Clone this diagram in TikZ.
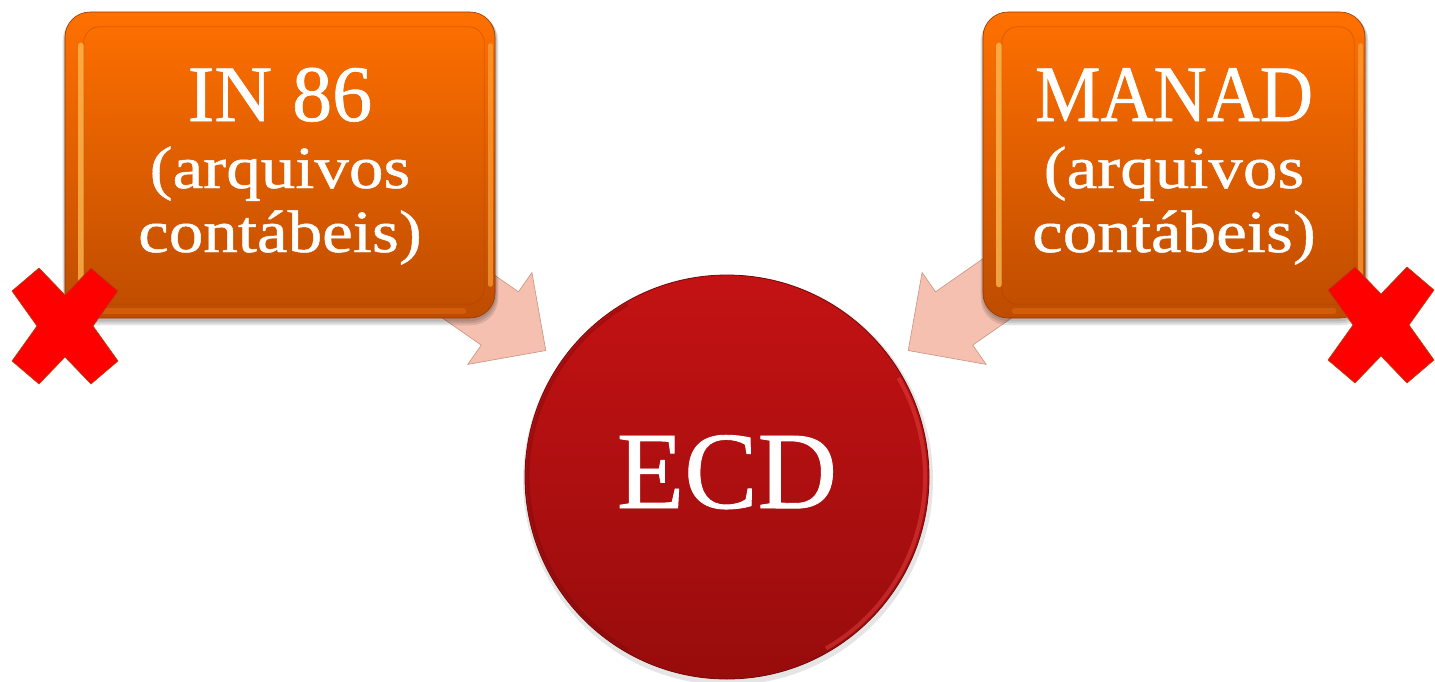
\documentclass[tikz,border=0pt]{standalone}
\usepackage{fontspec}
\setmainfont{Liberation Serif}
\newfontfamily\basefont[FakeBold=0.8]{Liberation Serif}
\newfontfamily\widefont[FakeStretch=1.15,FakeBold=0.8]{Liberation Serif}
\newfontfamily\narrowfont[FakeStretch=0.92,FakeBold=0.8]{Liberation Serif}
\usetikzlibrary{calc}
\pgfdeclarelayer{bg}
\pgfsetlayers{bg,main}
\definecolor{orTop}{RGB}{255,112,0}
\definecolor{orBot}{RGB}{190,76,0}
\definecolor{orEdge}{RGB}{150,58,0}
\definecolor{orHi}{RGB}{255,190,85}
\definecolor{orHiR}{RGB}{255,165,60}
\definecolor{orRing}{RGB}{230,108,20}
\definecolor{rdTop}{RGB}{196,18,20}
\definecolor{rdBot}{RGB}{152,12,12}
\definecolor{rdEdge}{RGB}{115,8,8}
\definecolor{rdHi}{RGB}{235,70,70}
\definecolor{arFill}{RGB}{245,192,176}
\definecolor{arEdge}{RGB}{205,150,130}
\definecolor{xRed}{RGB}{255,0,0}
\definecolor{xEdge}{RGB}{170,70,20}
\begin{document}
\begin{tikzpicture}[x=1pt,y=-1pt,
  glossbox/.style={rectangle, rounded corners=25pt, minimum width=#1, minimum height=306pt,
    inner sep=0pt, top color=orTop, bottom color=orBot, draw=orEdge, line width=0.6pt},
  ecdcircle/.style={circle, minimum size=404pt, inner sep=0pt, top color=rdTop,
    bottom color=rdBot, draw=rdEdge, line width=0.8pt},
  bigtxt/.style={anchor=base, inner sep=0pt, text=white, font=\basefont\fontsize{80}{80}\selectfont},
  smalltxt/.style={anchor=base, inner sep=0pt, text=white, font=\widefont\fontsize{60}{60}\selectfont},
  ecdtxt/.style={anchor=base, inner sep=0pt, text=white, font=\basefont\fontsize{110}{110}\selectfont},
  arrowfill/.style={fill=arFill, draw=arEdge, line width=0.6pt, line join=miter},
  arrowshadow/.style={fill=black, opacity=0.22},
  boxshadow/.style={fill=black, opacity=0.10, rounded corners=27pt},
  hiL/.style={draw=orHi, line width=6pt, line cap=round, opacity=0.75},
  hiR/.style={draw=orHiR, line width=5pt, line cap=round, opacity=0.65},
  ringB/.style={draw=orRing, line width=6pt, line cap=round, opacity=0.5},
  innerface/.style={draw=orEdge, draw opacity=0.3, line width=0.8pt, rounded corners=16pt},
  xmarkstyle/.style={fill=xRed, draw=xEdge, line width=0.6pt, line join=miter}
]
\useasboundingbox (0,0) rectangle (1435,681);

% nodes
\node[glossbox=430pt] (in86) at (280,165) {};
\node[glossbox=382pt] (manad) at (1174,165) {};
\node[ecdcircle] (ecd) at (727,477) {};

% connector coordinates
\coordinate (tipL) at ($(ecd.center)!221pt!(in86.center)$);
\coordinate (hL) at ($(tipL)!56pt!(in86.center)$);
\coordinate (tipR) at ($(ecd.center)!221pt!(manad.center)$);
\coordinate (hR) at ($(tipR)!56pt!(manad.center)$);

\begin{pgfonlayer}{bg}
  \fill[white] (0,0) rectangle (1435,681);
  % arrow shadows
  \begin{scope}[shift={(2,3)}]
  \path[arrowshadow] ($(in86.center)!32.5pt!90:(tipL)$) -- ($(hL)!32.5pt!90:(tipL)$)
    -- ($(hL)!56pt!90:(tipL)$) -- (tipL) -- ($(hL)!56pt!-90:(tipL)$)
    -- ($(hL)!32.5pt!-90:(tipL)$) -- ($(in86.center)!32.5pt!-90:(tipL)$) -- cycle;
  \path[arrowshadow] ($(manad.center)!32.5pt!90:(tipR)$) -- ($(hR)!32.5pt!90:(tipR)$)
    -- ($(hR)!56pt!90:(tipR)$) -- (tipR) -- ($(hR)!56pt!-90:(tipR)$)
    -- ($(hR)!32.5pt!-90:(tipR)$) -- ($(manad.center)!32.5pt!-90:(tipR)$) -- cycle;
  \end{scope}
  % arrows
  \path[arrowfill] ($(in86.center)!32.5pt!90:(tipL)$) -- ($(hL)!32.5pt!90:(tipL)$)
    -- ($(hL)!56pt!90:(tipL)$) -- (tipL) -- ($(hL)!56pt!-90:(tipL)$)
    -- ($(hL)!32.5pt!-90:(tipL)$) -- ($(in86.center)!32.5pt!-90:(tipL)$) -- cycle;
  \path[arrowfill] ($(manad.center)!32.5pt!90:(tipR)$) -- ($(hR)!32.5pt!90:(tipR)$)
    -- ($(hR)!56pt!90:(tipR)$) -- (tipR) -- ($(hR)!56pt!-90:(tipR)$)
    -- ($(hR)!32.5pt!-90:(tipR)$) -- ($(manad.center)!32.5pt!-90:(tipR)$) -- cycle;
  % box shadows
  \foreach \b in {in86,manad}{
    \path[boxshadow] ($(\b.north west)+(-2,2)$) rectangle ($(\b.south east)+(3,7)$);
    \path[boxshadow] ($(\b.north west)+(-1,1)$) rectangle ($(\b.south east)+(2,5)$);
    \path[boxshadow] ($(\b.north west)+(0,0)$) rectangle ($(\b.south east)+(1,3)$);
  }
  % circle shadow
  \fill[black, opacity=0.10] ($(ecd.center)+(1,3)$) circle[radius=205];
\end{pgfonlayer}

% bevel decorations of the boxes
\foreach \b in {in86,manad}{
  \path[ringB] ($(\b.south west)+(32,-7)$) -- ($(\b.south east)+(-32,-7)$);
  \path[hiL] ($(\b.north west)+(16,34)$) -- ($(\b.south west)+(16,-34)$);
  \path[hiR] ($(\b.north east)+(-5,34)$) -- ($(\b.south east)+(-5,-34)$);
  \path[innerface] ($(\b.north west)+(19,15)$) rectangle ($(\b.south east)+(-11,-14)$);
}

% circle edge light and shade
\draw[rdHi, line width=4pt, opacity=0.45] ($(ecd.center)+(-30:198)$) arc[start angle=-30, end angle=60, radius=198];
\draw[rdEdge, line width=3pt, opacity=0.35] ($(ecd.center)+(120:199)$) arc[start angle=120, end angle=240, radius=199];

% texts
\node[bigtxt] (in86a) at (280,121) {IN 86};
\node[smalltxt] (in86b) at (280,188) {(arquivos};
\node[smalltxt] (in86c) at (280,252) {contábeis)};
\node[bigtxt] (manada) at (1174,121) {\narrowfont MANAD};
\node[smalltxt] (manadb) at (1174,188) {(arquivos};
\node[smalltxt] (manadc) at (1174,252) {contábeis)};
\node[ecdtxt] (ecdt) at (727,508) {ECD};

% red crosses
\foreach \cx/\cy in {65/326, 1381/325}{
  \path[xmarkstyle, shift={(\cx,\cy)}] (-53,-35) -- (-26,-58) -- (0,-31) -- (26,-58) -- (53,-35)
    -- (28,0) -- (53,35) -- (26,58) -- (0,31) -- (-26,58) -- (-53,35) -- (-28,0) -- cycle;
}
\end{tikzpicture}
\end{document}
